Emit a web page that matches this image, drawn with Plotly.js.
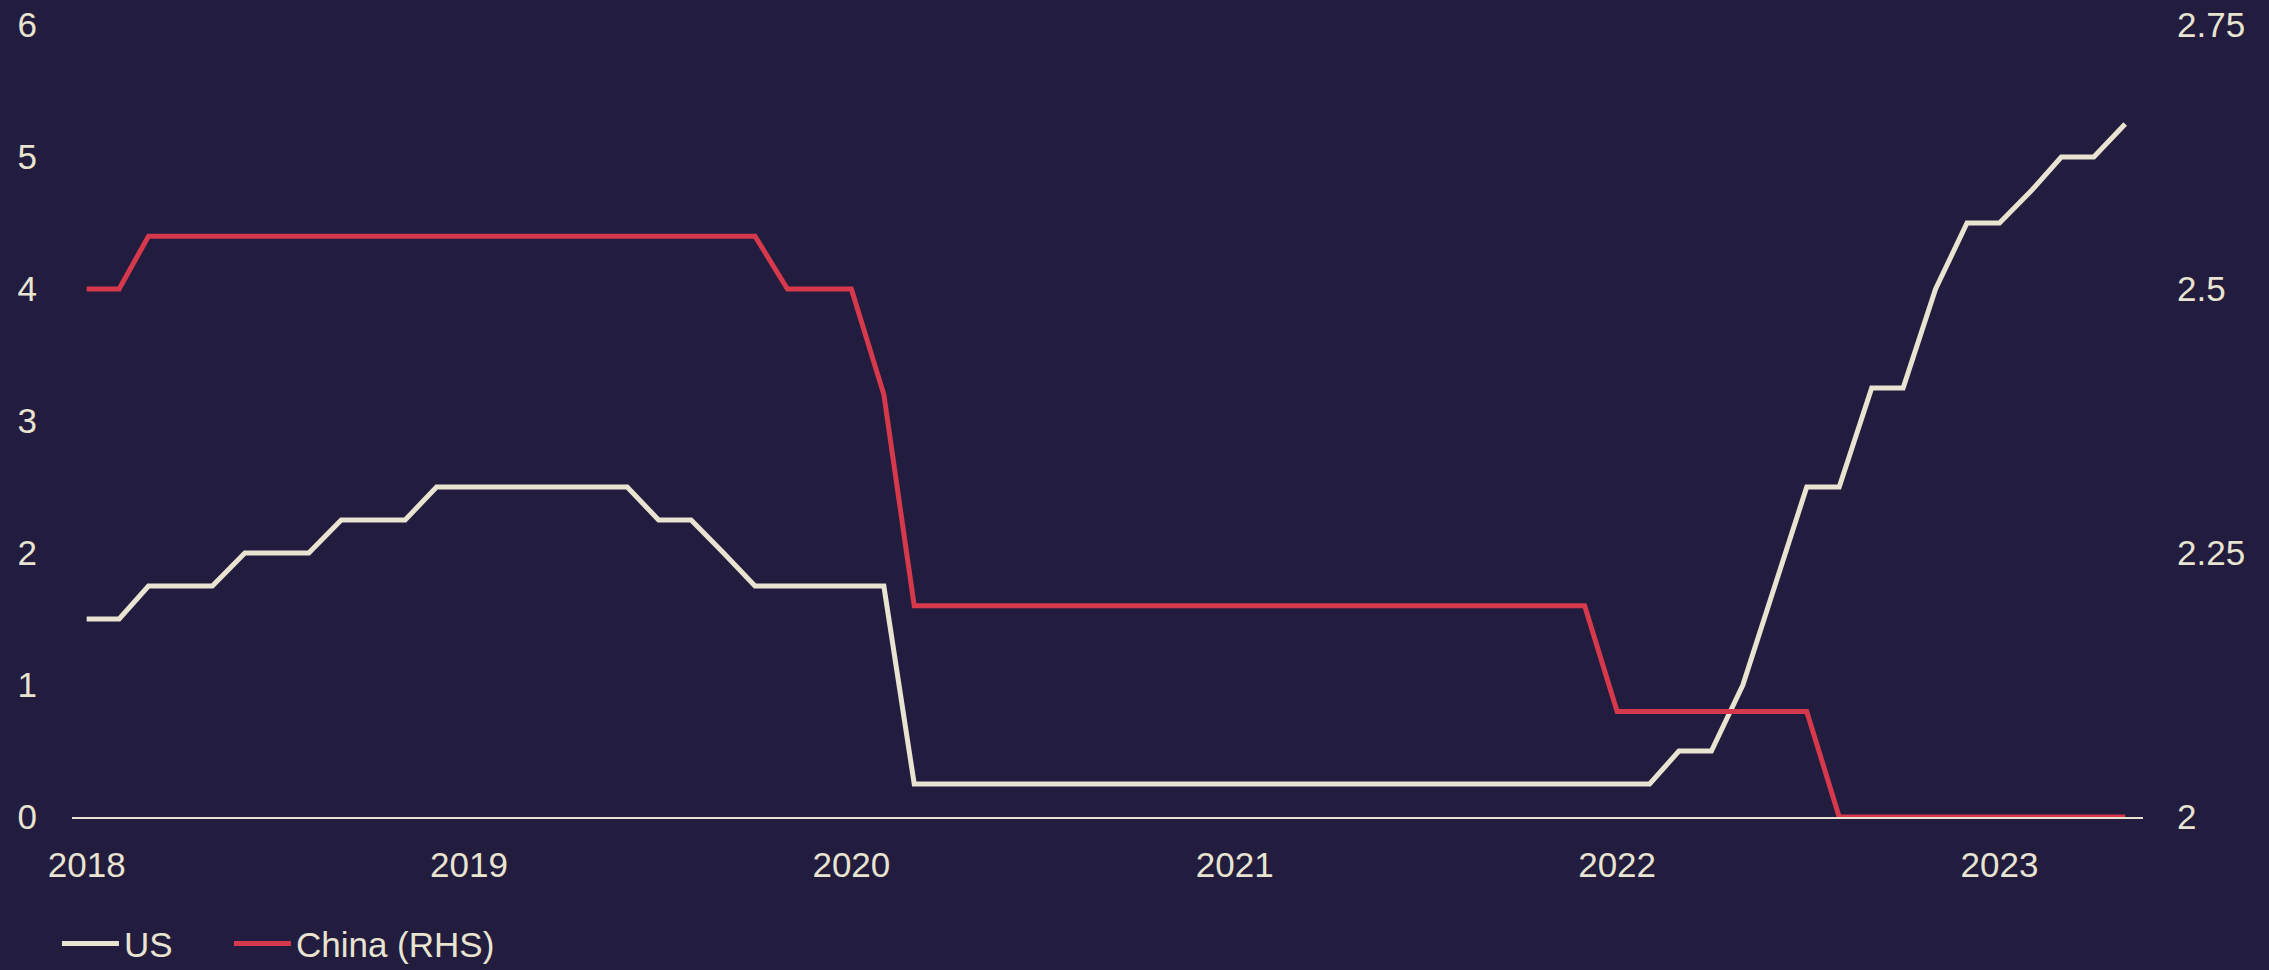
<!DOCTYPE html>
<html>
<head>
<meta charset="utf-8">
<script src="https://cdn.plot.ly/plotly-3.0.1.min.js"></script>
<style>
  html, body { margin: 0; padding: 0; background: #221c3e; }
  #chart { width: 2269px; height: 970px; }
</style>
</head>
<body>
<div id="chart"></div>
<script>
const months = [
  '2018-01-01','2018-02-01','2018-03-01','2018-04-01','2018-05-01','2018-06-01','2018-07-01','2018-08-01','2018-09-01','2018-10-01','2018-11-01','2018-12-01',
  '2019-01-01','2019-02-01','2019-03-01','2019-04-01','2019-05-01','2019-06-01','2019-07-01','2019-08-01','2019-09-01','2019-10-01','2019-11-01','2019-12-01',
  '2020-01-01','2020-02-01','2020-03-01','2020-04-01','2020-05-01','2020-06-01','2020-07-01','2020-08-01','2020-09-01','2020-10-01','2020-11-01','2020-12-01',
  '2021-01-01','2021-02-01','2021-03-01','2021-04-01','2021-05-01','2021-06-01','2021-07-01','2021-08-01','2021-09-01','2021-10-01','2021-11-01','2021-12-01',
  '2022-01-01','2022-02-01','2022-03-01','2022-04-01','2022-05-01','2022-06-01','2022-07-01','2022-08-01','2022-09-01','2022-10-01','2022-11-01','2022-12-01',
  '2023-01-01','2023-02-01','2023-03-01','2023-04-01','2023-05-01'
];

const usRate = [
  1.5, 1.5, 1.75, 1.75, 1.75, 2.0, 2.0, 2.0, 2.25, 2.25, 2.25, 2.5,
  2.5, 2.5, 2.5, 2.5, 2.5, 2.5, 2.25, 2.25, 2.0, 1.75, 1.75, 1.75,
  1.75, 1.75, 0.25, 0.25, 0.25, 0.25, 0.25, 0.25, 0.25, 0.25, 0.25, 0.25,
  0.25, 0.25, 0.25, 0.25, 0.25, 0.25, 0.25, 0.25, 0.25, 0.25, 0.25, 0.25,
  0.25, 0.25, 0.5, 0.5, 1.0, 1.75, 2.5, 2.5, 3.25, 3.25, 4.0, 4.5,
  4.5, 4.75, 5.0, 5.0, 5.25
];

const chinaRate = [
  2.5, 2.5, 2.55, 2.55, 2.55, 2.55, 2.55, 2.55, 2.55, 2.55, 2.55, 2.55,
  2.55, 2.55, 2.55, 2.55, 2.55, 2.55, 2.55, 2.55, 2.55, 2.55, 2.5, 2.5,
  2.5, 2.4, 2.2, 2.2, 2.2, 2.2, 2.2, 2.2, 2.2, 2.2, 2.2, 2.2,
  2.2, 2.2, 2.2, 2.2, 2.2, 2.2, 2.2, 2.2, 2.2, 2.2, 2.2, 2.2,
  2.1, 2.1, 2.1, 2.1, 2.1, 2.1, 2.1, 2.0, 2.0, 2.0, 2.0, 2.0,
  2.0, 2.0, 2.0, 2.0, 2.0
];

const seriesNames = ['US', 'China (RHS)'];
const leftTicks = [0, 1, 2, 3, 4, 5, 6];
const rightTicks = [2, 2.25, 2.5, 2.75];
const yearTicks = ['2018-01-01','2019-01-01','2020-01-01','2021-01-01','2022-01-01','2023-01-01'];
const yearLabels = ['2018','2019','2020','2021','2022','2023'];

const BG = '#221c3e';
const CREAM = '#e8e4d1';
const RED = '#d6394b';
const FONT = 'Liberation Sans, Arial, sans-serif';

const traces = [
  {
    x: months, y: usRate, name: seriesNames[0], type: 'scatter', mode: 'lines',
    line: { color: CREAM, width: 5 }, yaxis: 'y', legend: 'legend', hoverinfo: 'skip'
  },
  {
    x: months, y: chinaRate, name: seriesNames[1], type: 'scatter', mode: 'lines',
    line: { color: RED, width: 5 }, yaxis: 'y2', legend: 'legend2', hoverinfo: 'skip'
  }
];

const legendBase = {
  orientation: 'h', xanchor: 'left', yanchor: 'middle',
  xref: 'container', yref: 'container', y: 0.027,
  font: { family: FONT, size: 35, color: CREAM },
  bgcolor: 'rgba(0,0,0,0)', itemwidth: 57
};

const layout = {
  width: 2269, height: 970,
  paper_bgcolor: BG, plot_bgcolor: BG,
  margin: { l: 72, r: 126, t: 25, b: 153, pad: 0, autoexpand: false },
  font: { family: FONT, size: 35, color: CREAM },
  showlegend: true,
  legend: Object.assign({}, legendBase, { x: 0.0251 }),
  legend2: Object.assign({}, legendBase, { x: 0.1009 }),
  xaxis: {
    type: 'date', range: ['2017-12-18', '2023-05-18'],
    tickmode: 'array', tickvals: yearTicks, ticktext: yearLabels,
    showgrid: false, zeroline: false, ticks: '',
    showline: true, linecolor: CREAM, linewidth: 2,
    ticklabelstandoff: 16,
    tickfont: { family: FONT, size: 35, color: CREAM },
    automargin: false
  },
  yaxis: {
    range: [0, 6], tickmode: 'array', tickvals: leftTicks,
    showgrid: false, zeroline: false, ticks: '', showline: false,
    ticklabelstandoff: 34,
    tickfont: { family: FONT, size: 35, color: CREAM },
    automargin: false
  },
  yaxis2: {
    range: [2, 2.75], tickmode: 'array', tickvals: rightTicks,
    overlaying: 'y', side: 'right',
    showgrid: false, zeroline: false, ticks: '', showline: false,
    ticklabelstandoff: 33,
    tickfont: { family: FONT, size: 35, color: CREAM },
    automargin: false
  }
};

Plotly.newPlot('chart', traces, layout, { staticPlot: true, displayModeBar: false });
</script>
</body>
</html>
